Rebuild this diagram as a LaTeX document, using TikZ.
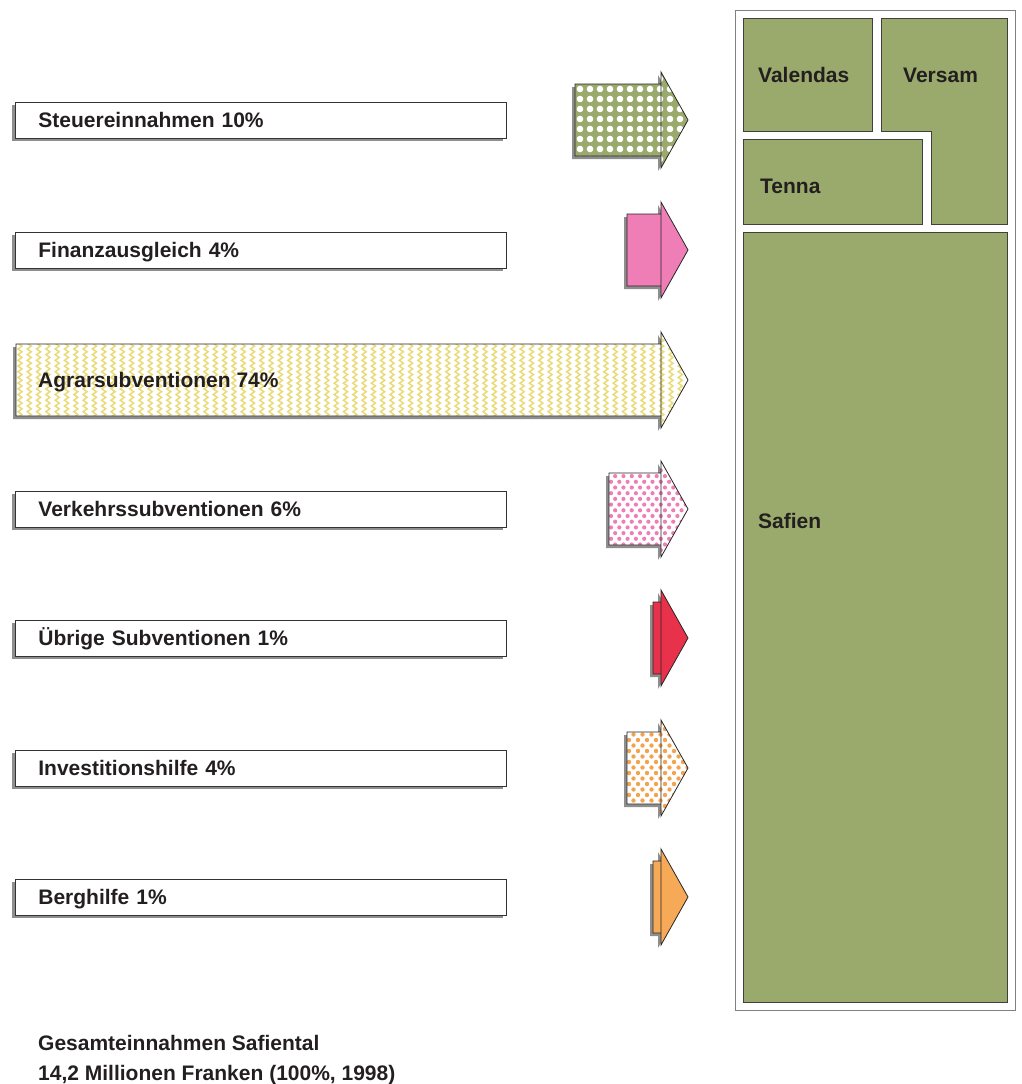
\documentclass[tikz,border=0pt]{standalone}
\usepackage{fontspec}
\setmainfont{Liberation Sans}
\usetikzlibrary{shadows}

\definecolor{feldgruen}{HTML}{9AAA6C}
\definecolor{rosa}{HTML}{EE7EB5}
\definecolor{signalrot}{HTML}{E8314A}
\definecolor{hellorange}{HTML}{F6AA57}
\definecolor{punktorange}{HTML}{F5A24C}
\definecolor{zickgelb}{HTML}{E9DB78}
\definecolor{schatten}{HTML}{8E8E8E}
\definecolor{schrift}{HTML}{231F20}

\tikzset{
  pfeil/.style 2 args={insert path={(#1,#2-36) -- (661,#2-36) -- (661,#2-48) -- (688,#2)
    -- (661,#2+48) -- (661,#2+36) -- (#1,#2+36) -- cycle}},
}

% arrow body: shadow, fill, then outline with the base line of the head
\newcommand{\pfeilgrund}[3]{%
  \fill[schatten, shift={(-3,3)}, pfeil={#1}{#2}];
  \fill[#3, pfeil={#1}{#2}];}
\newcommand{\pfeilkante}[2]{%
  \draw[kante, pfeil={#1}{#2}] (661,#2-48) -- (661,#2+48);}

\begin{document}
\begin{tikzpicture}[x=1pt, y=-1pt,
  font=\fontsize{21}{24}\selectfont\bfseries, text=schrift,
  kante/.style={draw=black!85, line width=0.8pt, line join=miter},
  txt/.style={anchor=west, inner sep=0pt, text height=15pt, text depth=0pt},
  lbl/.style={draw=black!80, fill=white, line width=0.8pt, anchor=west,
    minimum height=36pt, text width=445pt, inner xsep=23pt, align=left,
    text height=15pt, text depth=0pt,
    drop shadow={shadow xshift=-3pt, shadow yshift=-3pt, fill=schatten, opacity=1}},
  dorf/.style={draw=black!75, fill=feldgruen, line width=0.8pt},
  rahmen/.style={draw=black!50, line width=1pt},
  zickzack/.style={draw=zickgelb, line width=1.5pt, line join=miter}
]
\useasboundingbox (0,0) rectangle (1022,1084);

% Einnahmen links
\node[lbl] (steuer) at (15,120) {Steuereinnahmen 10\%};
\node[lbl] (finanz) at (15,250) {Finanzausgleich 4\%};
\node[lbl] (verkehr) at (15,509) {Verkehrssubventionen 6\%};
\node[lbl] (uebrige) at (15,638) {Übrige Subventionen 1\%};
\node[lbl] (invest) at (15,768) {Investitionshilfe 4\%};
\node[lbl] (berg) at (15,897) {Berghilfe 1\%};

% Steuereinnahmen: gruen mit weissen Punkten
\pfeilgrund{575}{120}{feldgruen}
\begin{scope}
  \clip[pfeil={575}{120}];
  \foreach \x in {580,590,...,690}
    \foreach \y in {69,79,...,169}
      \fill[white] (\x,\y) circle (3.3pt);
\end{scope}
\pfeilkante{575}{120}

% Finanzausgleich
\pfeilgrund{627}{250}{rosa}
\pfeilkante{627}{250}

% Agrarsubventionen: Zickzack
\pfeilgrund{16}{380}{white}
\begin{scope}
  \clip[pfeil={16}{380}];
  \foreach \x in {22,31.3,...,694}
    \draw[zickzack] (\x,329) \foreach \k in {1,...,18} {-- ++(-4,2.85) -- ++(4,2.85)};
\end{scope}
\pfeilkante{16}{380}
\node[txt] (agrar) at (38,380) {Agrarsubventionen 74\%};

% Verkehrssubventionen: rosa Punkte
\pfeilgrund{609}{509}{white}
\begin{scope}
  \clip[pfeil={609}{509}];
  \foreach \x in {611,619.3,...,694}
    \foreach \y in {459,470.4,...,562} {
      \fill[rosa] (\x,\y) circle (2.1pt);
      \fill[rosa] (\x+4.15,\y+5.7) circle (2.1pt);
    }
\end{scope}
\pfeilkante{609}{509}

% Uebrige Subventionen
\pfeilgrund{653}{638}{signalrot}
\pfeilkante{653}{638}

% Investitionshilfe: orange Punkte
\pfeilgrund{627}{768}{white}
\begin{scope}
  \clip[pfeil={627}{768}];
  \foreach \x in {629,638,...,695}
    \foreach \y in {718,729,...,822} {
      \fill[punktorange] (\x,\y) circle (2.2pt);
      \fill[punktorange] (\x+4.5,\y+5.5) circle (2.2pt);
    }
\end{scope}
\pfeilkante{627}{768}

% Berghilfe
\pfeilgrund{653}{897}{hellorange}
\pfeilkante{653}{897}

% Gemeinden rechts
\draw[rahmen] (735,10) rectangle (1015,1010);
\draw[dorf] (743,18) rectangle (872,131);
\draw[dorf] (881,18) -- (1007,18) -- (1007,224) -- (931,224) -- (931,131) -- (881,131) -- cycle;
\draw[dorf] (743,139) rectangle (922,224);
\draw[dorf] (743,232) rectangle (1007,1002);
\node[txt] (valendas) at (758,75) {Valendas};
\node[txt] (versam) at (903,75) {Versam};
\node[txt] (tenna) at (760,186) {Tenna};
\node[txt] (safien) at (758,521) {Safien};

% Summe
\node[txt] (gesamt) at (38,1043) {Gesamteinnahmen Safiental};
\node[txt] (summe) at (38,1073) {14,2 Millionen Franken (100\%, 1998)};
\end{tikzpicture}
\end{document}
